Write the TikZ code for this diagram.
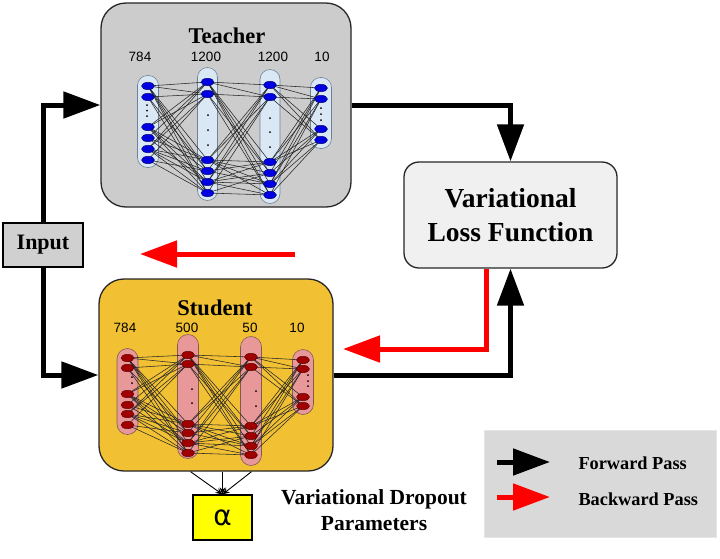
\documentclass[tikz,border=0pt]{standalone}
\usepackage{fontspec}
\setmainfont{Liberation Serif}
\newfontfamily\numfont{Liberation Sans}
\newfontfamily\alphafont{DejaVu Sans}
\usetikzlibrary{arrows.meta,calc,shapes.geometric}
\pgfdeclarelayer{boxl}
\pgfdeclarelayer{bgl}
\pgfdeclarelayer{midl}
\pgfsetlayers{boxl,bgl,midl,main}
\definecolor{tgray}{RGB}{204,204,204}
\definecolor{lossgray}{RGB}{240,240,240}
\definecolor{leggray}{RGB}{217,217,217}
\definecolor{inpgray}{RGB}{208,208,208}
\definecolor{sgold}{RGB}{241,193,51}
\definecolor{lblue}{RGB}{218,231,245}
\definecolor{lblueb}{RGB}{110,130,150}
\definecolor{nblue}{RGB}{0,0,225}
\definecolor{lpink}{RGB}{232,152,152}
\definecolor{lpinkb}{RGB}{130,90,80}
\definecolor{nred}{RGB}{160,0,0}
\definecolor{aryellow}{RGB}{255,255,0}
\tikzset{
  bigbox/.style={draw=black!85, line width=1.3pt, rounded corners=25pt},
  layerT/.style={draw=lblueb, fill=lblue, line width=0.6pt, rounded corners=10pt, minimum width=21pt, inner sep=0pt},
  layerS/.style={draw=lpinkb, fill=lpink, line width=0.6pt, rounded corners=10.5pt, minimum width=21pt, inner sep=0pt},
  tn/.style={ellipse, draw=blue!40!black, fill=nblue, line width=0.4pt, minimum width=13pt, minimum height=7.5pt, inner sep=0pt},
  sn/.style={ellipse, draw=black!70!red, fill=nred, line width=0.4pt, minimum width=13pt, minimum height=7.5pt, inner sep=0pt},
  conn/.style={black!85, line width=0.55pt},
  numlbl/.style={font=\numfont\fontsize{13.5}{15}\selectfont, inner sep=0pt},
  ttl/.style={font=\fontsize{22.5}{25}\selectfont\bfseries, inner sep=0pt},
  fwd/.style={line width=5pt, -{Triangle[length=37pt,width=26pt]}},
  bwd/.style={red, line width=5pt, -{Triangle[length=37pt,width=26pt]}},
}
\begin{document}
\begin{tikzpicture}[x=1pt,y=-1pt]
\useasboundingbox (0,0) rectangle (720,558);

% main boxes
\begin{pgfonlayer}{boxl}
\fill[white] (0,0) rectangle (720,558);
\node[bigbox, fill=tgray, minimum width=250pt, minimum height=204pt] (teacher) at (226,105) {};
\node[bigbox, fill=sgold, minimum width=234pt, minimum height=192pt] (student) at (216,375) {};
\end{pgfonlayer}
\node[draw=black!85, line width=1.3pt, fill=lossgray, rounded corners=15pt, minimum width=213pt, minimum height=106pt,
      align=center, font=\fontsize{27.5}{34}\selectfont\bfseries] (loss) at (510.5,215) {Variational\\Loss Function};
\node[draw=black, line width=1.2pt, fill=inpgray, minimum width=80pt, minimum height=44pt,
      font=\fontsize{22}{24}\selectfont\bfseries] (input) at (43,245) {Input};
\node[draw=black, line width=1.2pt, fill=aryellow, minimum width=59pt, minimum height=45pt,
      font=\alphafont\fontsize{28}{30}\selectfont] (alpha) at (222.5,517.5) {α};
\node[fill=leggray, draw=black!10, minimum width=232pt, minimum height=107pt] (legend) at (600,483.5) {};

% titles
\node[ttl] (tt) at (227,36) {Teacher};
\node[ttl] (st) at (215,308) {Student};
\node[numlbl] (tl1) at (140,57) {784};
\node[numlbl] (tl2) at (206,57) {1200};
\node[numlbl] (tl3) at (273,57) {1200};
\node[numlbl] (tl4) at (322,57) {10};
\node[numlbl] (sl1) at (125,328) {784};
\node[numlbl] (sl2) at (187,328) {500};
\node[numlbl] (sl3) at (250,328) {50};
\node[numlbl] (sl4) at (297,328) {10};

% layers
\begin{pgfonlayer}{bgl}
\node[layerT, minimum height=92pt] (tb1) at (148,121.5) {};
\node[layerT, minimum height=133pt, minimum width=20pt] (tb2) at (207.5,134) {};
\node[layerT, minimum height=134pt, minimum width=20pt] (tb3) at (270,136.5) {};
\node[layerT, minimum height=71pt] (tb4) at (321,113) {};
\node[layerS, minimum height=86pt] (sb1) at (127.5,391.5) {};
\node[layerS, minimum height=124pt] (sb2) at (188,396.5) {};
\node[layerS, minimum height=129pt] (sb3) at (251,401) {};
\node[layerS, minimum height=65pt] (sb4) at (303,382) {};
\end{pgfonlayer}

% teacher neurons
\foreach \y [count=\i] in {86,97,127,138,149,160} \node[tn] (t1-\i) at (148,\y) {};
\foreach \y [count=\i] in {82,94,160,171,182,193} \node[tn] (t2-\i) at (207.5,\y) {};
\foreach \y [count=\i] in {85,97,162,173,184,195} \node[tn] (t3-\i) at (270,\y) {};
\foreach \y [count=\i] in {88,99,129,140} \node[tn] (t4-\i) at (321,\y) {};
% student neurons
\foreach \y [count=\i] in {358,368,394,405,414,425} \node[sn] (s1-\i) at (127.5,\y) {};
\foreach \y [count=\i] in {355,364,424,433,443,453} \node[sn] (s2-\i) at (188,\y) {};
\foreach \y [count=\i] in {357,367,426,436,446,455} \node[sn] (s3-\i) at (251,\y) {};
\foreach \y [count=\i] in {360,369,397,406} \node[sn] (s4-\i) at (303,\y) {};

% dots
\foreach \y in {105,110.5,116} \fill (147,\y) circle (1pt);
\foreach \y in {115,130,145} \fill (208,\y) circle (1pt);
\foreach \y in {118,132,147} \fill (270,\y) circle (1pt);
\foreach \y in {108,114,120} \fill (321,\y) circle (1pt);
\foreach \y in {377,383} \fill (132,\y) circle (1pt);
\foreach \y in {389,403} \fill (192,\y) circle (1pt);
\foreach \y in {391,406} \fill (256,\y) circle (1pt);
\foreach \y in {375,381,386} \fill (308,\y) circle (1pt);

% connections
\begin{pgfonlayer}{midl}
\foreach \a/\b/\na/\nb in {t1/t2/6/6, t2/t3/6/6, t3/t4/6/4, s1/s2/6/6, s2/s3/6/6, s3/s4/6/4}{
  \foreach \i in {1,...,\na}{
    \foreach \j in {1,...,\nb}{
      \pgfmathtruncatemacro\k{mod(\i+2*\j,4)}
      \ifnum\k>0 \draw[conn] (\a-\i.center) -- (\b-\j.center);\fi
    }
  }
}
\end{pgfonlayer}

% flow arrows
\draw[fwd] (input.north) |- (teacher.west);
\draw[fwd] (input.south) |- (student.west);
\draw[fwd] (teacher.east) -| (loss.north);
\draw[fwd] (student.east) -| (loss.south);
\coordinate (rb) at (343,349);
\draw[bwd] ($(loss.south)+(-24,0)$) |- (rb);
\coordinate (rt1) at (295,254);
\coordinate (rt2) at (140,254);
\draw[bwd] (rt1) -- (rt2);

% alpha arrows
\foreach \dx in {-32,0,29}
  \draw[black, line width=0.9pt, -{Stealth[length=7pt,width=6pt]}] ($(student.south -| alpha.north)+(\dx,0)$) -- (alpha.north);

\node[align=center, font=\fontsize{21.5}{26}\selectfont\bfseries] (vdp) at (374,510) {Variational Dropout\\Parameters};

% legend
\coordinate (lf1) at (497,462);
\coordinate (lf2) at (550,462);
\coordinate (lb1) at (497,497);
\coordinate (lb2) at (550,497);
\draw[fwd] (lf1) -- (lf2);
\draw[bwd] (lb1) -- (lb2);
\node[anchor=west, font=\fontsize{18.3}{20}\selectfont\bfseries] (lft) at (575,463) {Forward Pass};
\node[anchor=west, font=\fontsize{18.3}{20}\selectfont\bfseries] (lbt) at (575,499) {Backward Pass};
\end{tikzpicture}
\end{document}
